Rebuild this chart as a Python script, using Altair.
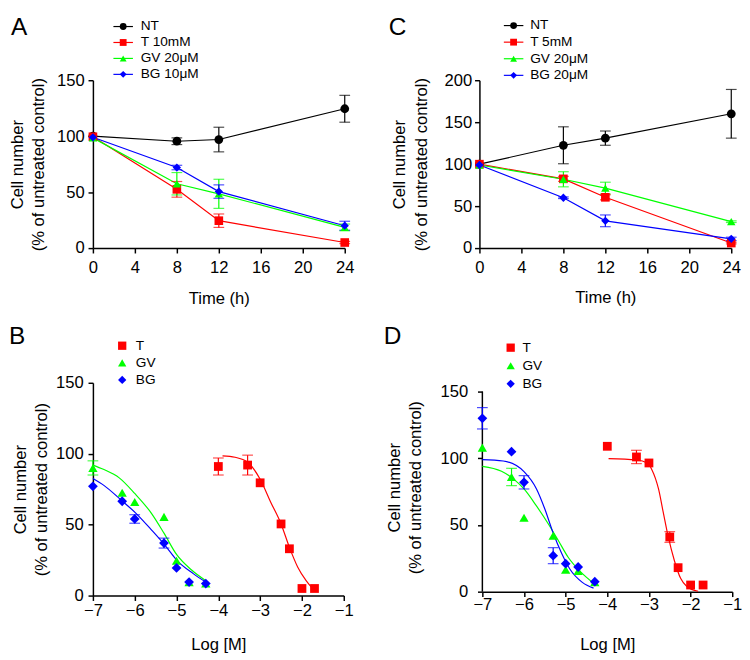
import altair as alt
import pandas as pd

FONT = "Liberation Sans"
BLACK, RED, GREEN, BLUE = "#000000", "#ff0000", "#00ff00", "#0000ff"

# ---------------- Panel A ----------------
A_time = [0, 8, 12, 24]
A_labels = ["NT", "T 10mM", "GV 20μM", "BG 10μM"]
A_NT = [100, 95.5, 97, 124.5]
A_NT_err = [0, 3, 11, 12]
A_T = [99.5, 52.5, 24.5, 5]
A_T_err = [0, 7, 6, 1]
A_GV = [98.5, 57.5, 48.5, 18.5]
A_GV_err = [0, 10, 13, 3]
A_BG = [99, 72, 50.5, 20]
A_BG_err = [0, 2, 6, 4]

# ---------------- Panel C ----------------
C_time = [0, 8, 12, 24]
C_labels = ["NT", "T 5mM", "GV 20μM", "BG 20μM"]
C_NT = [100, 122.5, 131, 160]
C_NT_err = [0, 22, 8.5, 29]
C_T = [100, 82.5, 60.5, 6]
C_T_err = [0, 3, 3, 1]
C_GV = [99, 82, 71.5, 31.5]
C_GV_err = [0, 9, 7, 1]
C_BG = [99, 60, 32.5, 11]
C_BG_err = [0, 1, 7, 2]

# ---------------- Panel B ----------------
B_labels = ["T", "GV", "BG"]
T_logM = [-4, -3.3, -3, -2.5, -2.3, -2, -1.7]
INH_logM = [-7, -6.3, -6, -5.3, -5, -4.7, -4.3]
B_T = [91, 92, 79.5, 50.5, 33, 5, 5]
B_T_err = [6, 7, 0, 0, 0, 0, 0]
B_GV = [90, 72.5, 66, 55.5, 24.5, 9.5, 8.5]
B_GV_err = [5, 0, 0, 0, 0, 0, 0]
B_BG = [77, 66.5, 54, 37, 19.5, 9.5, 8.5]
B_BG_err = [0, 0, 3, 3.5, 0, 0, 0]
# fitted curves
B_T_fit_x = [-3.9, -3.6, -3.3, -3.0, -2.75, -2.5, -2.3, -2.1, -1.9, -1.75]
B_T_fit_y = [98.5, 97.5, 94, 82, 66, 50.5, 34, 20, 10.5, 5]
B_GV_fit_x = [-7, -6.75, -6.37, -6.0, -5.6, -5.3, -5.0, -4.64, -4.3]
B_GV_fit_y = [92, 89, 83, 72, 58, 44, 29, 18, 10.5]
B_BG_fit_x = [-7, -6.73, -6.35, -5.97, -5.59, -5.29, -4.98, -4.6, -4.3]
B_BG_fit_y = [82.5, 77.5, 68, 58, 46, 36, 24.5, 15.5, 9.5]

# ---------------- Panel D ----------------
D_labels = ["T", "GV", "BG"]
D_T = [109, 101, 96.5, 41, 18, 5, 5]
D_T_err = [0, 5, 0, 4, 0, 0, 0]
D_GV = [108, 86, 55.5, 42, 16.5, 15.5, 7]
D_GV_err = [0, 6.5, 0, 0, 0, 0, 0]
D_BG = [130, 105, 82, 27, 21, 18.5, 7.5]
D_BG_err = [8, 0, 5, 6, 0, 0, 0]
D_T_fit_x = [-3.97, -3.3, -3.04, -2.93, -2.77, -2.66, -2.54, -2.39, -2.24, -2.09, -1.82]
D_T_fit_y = [99.8, 98.8, 96.4, 91.5, 77, 60, 41.6, 23.4, 10, 3.9, 0.3]
D_GV_fit_x = [-7, -6.54, -6.24, -6.0, -5.71, -5.4, -5.17, -4.94, -4.64, -4.33]
D_GV_fit_y = [94, 90.3, 84.2, 77, 64.7, 50, 38, 25.8, 14.8, 6.3]
D_BG_fit_x = [-7, -6.5, -6.0, -5.7, -5.5, -5.3, -5.1, -4.9, -4.6, -4.33]
D_BG_fit_y = [99, 98, 90, 77, 62, 44, 29, 17, 7, 2.7]

Y_TITLE = ["Cell number", "(% of untreated control)"]


def pts_frame(items):
    rows = []
    for label, xs, ys, es in items:
        for x, y, e in zip(xs, ys, es):
            rows.append({"series": label, "x": x, "y": y, "err": e, "lo": y - e, "hi": y + e})
    return pd.DataFrame(rows)


def fit_frame(items):
    rows = []
    for label, xs, ys in items:
        for x, y in zip(xs, ys):
            rows.append({"series": label, "x": x, "y": y})
    return pd.DataFrame(rows)


def panel(letter, letter_pos, pts, lines, interp, labels, colors, shapes, sizes,
          xdom, xvals, xtitle, ydom, yvals, w, h,
          leg_rows, leg_mx, leg_tx, leg_line, leg_size,
          x_lpad, x_tpad, y_lpad, y_tpad, ydomain_line=True):
    cscale = alt.Scale(domain=labels, range=colors)
    sscale = alt.Scale(domain=labels, range=shapes)
    zscale = alt.Scale(domain=labels, range=sizes)
    xaxis = alt.Axis(values=xvals, title=xtitle, labelPadding=x_lpad, titlePadding=x_tpad)
    yaxis = alt.Axis(values=yvals, title=Y_TITLE, labelPadding=y_lpad, titlePadding=y_tpad,
                     titleLineHeight=22, domain=ydomain_line)

    def X(f):
        return alt.X(f + ":Q", scale=alt.Scale(domain=xdom, nice=False, zero=False), axis=xaxis)

    def Y(f):
        return alt.Y(f + ":Q", scale=alt.Scale(domain=ydom, nice=False, zero=False), axis=yaxis)

    color = alt.Color("series:N", scale=cscale, legend=None)
    shape = alt.Shape("series:N", scale=sscale, legend=None)
    size = alt.Size("series:N", scale=zscale, legend=None)

    layers = []
    if not ydomain_line:
        span = pd.DataFrame({"x": [xdom[0]], "y": [min(yvals)], "y2": [max(yvals)]})
        layers.append(alt.Chart(span).mark_rule(color="black", strokeWidth=1.5)
                      .encode(x=X("x"), y=Y("y"), y2="y2:Q"))
    layers.append(alt.Chart(lines).mark_line(strokeWidth=1.2, interpolate=interp)
                  .encode(x=X("x"), y=Y("y"), color=color))
    eb = pts[pts["err"] > 0]
    layers.append(alt.Chart(eb).mark_rule(strokeWidth=1.2)
                  .encode(x=X("x"), y=Y("lo"), y2="hi:Q", color=color))
    for f in ("lo", "hi"):
        layers.append(alt.Chart(eb).mark_tick(orient="horizontal", size=11, thickness=1.2)
                      .encode(x=X("x"), y=Y(f), color=color))
    layers.append(alt.Chart(pts).mark_point(filled=True, opacity=1)
                  .encode(x=X("x"), y=Y("y"), color=color, shape=shape, size=size))
    data_layer = alt.layer(*layers)

    leg = pd.DataFrame({"series": labels})
    LY = alt.Y("series:N", scale=alt.Scale(type="point", domain=labels, range=leg_rows, padding=0),
               axis=None)
    ll = []
    if leg_line is not None:
        ll.append(alt.Chart(leg).mark_rule(strokeWidth=1.2)
                  .encode(x=alt.value(leg_line[0]), x2=alt.value(leg_line[1]), y=LY, color=color))
    ll.append(alt.Chart(leg).mark_point(filled=True, opacity=1, size=leg_size)
              .encode(x=alt.value(leg_mx), y=LY, color=color, shape=shape))
    ll.append(alt.Chart(leg).mark_text(align="left", baseline="middle", font=FONT,
                                        fontSize=14, color="black")
              .encode(x=alt.value(leg_tx), y=LY, text="series:N"))
    # panel letter
    ll.append(alt.Chart(pd.DataFrame({"letter": [letter]}))
              .mark_text(align="left", baseline="top", font=FONT, fontSize=25, color="black")
              .encode(x=alt.value(letter_pos[0]), y=alt.value(letter_pos[1]), text="letter:N"))
    leg_layer = alt.layer(*ll)

    return (alt.layer(data_layer, leg_layer)
            .resolve_scale(y="independent")
            .properties(width=w, height=h))


COLS4 = [BLACK, RED, GREEN, BLUE]
SHAPES4 = ["circle", "square", "triangle-up", "diamond"]
SIZES4 = [81, 72, 100, 90]

ptsA = pts_frame([(A_labels[0], A_time, A_NT, A_NT_err), (A_labels[1], A_time, A_T, A_T_err),
                  (A_labels[2], A_time, A_GV, A_GV_err), (A_labels[3], A_time, A_BG, A_BG_err)])
chartA = panel("A", (-84, -66), ptsA, ptsA, "linear", A_labels, COLS4, SHAPES4, SIZES4,
               [0, 24], [0, 4, 8, 12, 16, 20, 24], "Time (h)", [0, 150], [0, 50, 100, 150],
               258, 172, [-55, -6], 31, 49, (21, 41), 49,
               7, 16, 4, 9)

ptsC = pts_frame([(C_labels[0], C_time, C_NT, C_NT_err), (C_labels[1], C_time, C_T, C_T_err),
                  (C_labels[2], C_time, C_GV, C_GV_err), (C_labels[3], C_time, C_BG, C_BG_err)])
chartC = panel("C", (-93, -66), ptsC, ptsC, "linear", C_labels, COLS4, SHAPES4, SIZES4,
               [0, 24], [0, 4, 8, 12, 16, 20, 24], "Time (h)", [0, 200], [0, 50, 100, 150, 200],
               258, 172, [-56, -5], 35, 52, (25, 45), 49,
               7, 15, 3, 14)

COLS3 = [RED, GREEN, BLUE]
SHAPES3 = ["square", "triangle-up", "diamond"]
SIZES3 = [81, 100, 90]
LOGT = [-7, -6, -5, -4, -3, -2, -1]

ptsB = pts_frame([("T", T_logM, B_T, B_T_err), ("GV", INH_logM, B_GV, B_GV_err),
                  ("BG", INH_logM, B_BG, B_BG_err)])
fitB = fit_frame([("T", B_T_fit_x, B_T_fit_y), ("GV", B_GV_fit_x, B_GV_fit_y),
                  ("BG", B_BG_fit_x, B_BG_fit_y)])
chartB = panel("B", (-86, -60), ptsB, fitB, "monotone", B_labels, COLS3, SHAPES3, SIZES3,
               [-7, -1], LOGT, "Log [M]", [0, 150], [0, 50, 100, 150],
               257, 218, [-38, -3], 30, 44, None, 72,
               2, 19, 5, 5)

ptsD = pts_frame([("T", T_logM, D_T, D_T_err), ("GV", INH_logM, D_GV, D_GV_err),
                  ("BG", INH_logM, D_BG, D_BG_err)])
fitD = fit_frame([("T", D_T_fit_x, D_T_fit_y), ("GV", D_GV_fit_x, D_GV_fit_y),
                  ("BG", D_BG_fit_x, D_BG_fit_y)])
chartD = panel("D", (-101, -60), ptsD, fitD, "monotone", D_labels, COLS3, SHAPES3, SIZES3,
               [-7, -1], LOGT, "Log [M]", [0, 156.6], [0, 50, 100, 150],
               256, 214, [-36, 1], 29, 41, None, 72,
               0, 25, 10, 16, ydomain_line=False)

IND = dict(color="independent", shape="independent", size="independent")
top = alt.hconcat(chartA, chartC, spacing=35).resolve_scale(**IND)
bottom = alt.hconcat(chartB, chartD, spacing=31).resolve_scale(**IND)

chart = (alt.vconcat(top, bottom, spacing=18)
         .resolve_scale(**IND)
         .configure_view(stroke=None)
         .configure_axis(domainColor="black", domainWidth=1.5, tickColor="black", tickWidth=1.5,
                         tickSize=5, labelFont=FONT, labelFontSize=17, labelColor="black",
                         labelFlush=False, labelOverlap=False, grid=False,
                         titleFont=FONT, titleFontSize=17, titleFontWeight="normal",
                         titleColor="black")
         .properties(background="white", padding=0))

chart.save("out.html", embed_options={"renderer": "svg", "actions": False})
